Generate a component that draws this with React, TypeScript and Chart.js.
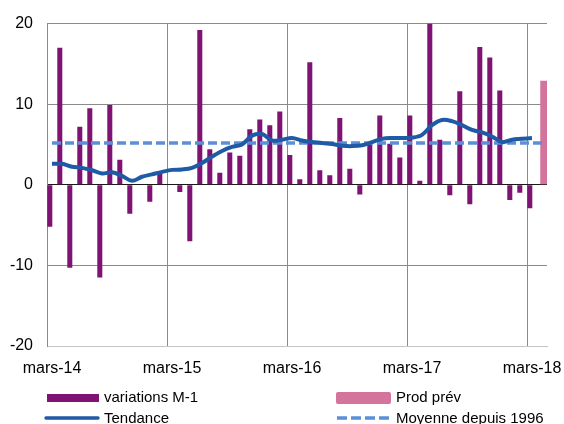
import { useEffect, useRef } from 'react';
import { Chart, registerables } from 'chart.js';

Chart.register(...registerables);

// ---- data ----
const monthNames = ['mars', 'avr', 'mai', 'juin', 'juil', 'août', 'sept', 'oct', 'nov', 'déc', 'janv', 'févr'];
const yearSuffixes = ['14', '15', '16', '17', '18'];
const categories: string[] = Array.from({ length: 50 }, (_, i) => `${monthNames[i % 12]}-${yearSuffixes[Math.floor((i + 2) / 12)]}`);
const tickLabels = ['mars-14', 'mars-15', 'mars-16', 'mars-17', 'mars-18'];

const variations: (number | null)[] = [
  -5.2, 17.0, -10.3, 7.2, 9.5, -11.5, 9.9, 3.1, -3.6, 0.0, -2.1, 1.5,
  0.0, -0.9, -7.0, 19.2, 4.4, 1.5, 4.0, 3.6, 6.9, 8.1, 7.4, 9.1,
  3.7, 0.7, 15.2, 1.8, 1.2, 8.3, 2.0, -1.2, 5.0, 8.6, 5.1, 3.4,
  8.6, 0.5, 20.0, 5.6, -1.3, 11.6, -2.4, 17.1, 15.8, 11.7, -1.9, -1.0,
  -2.9, null,
];
const prodPrev: (number | null)[] = [
  ...Array(49).fill(null), 12.9,
];
const tendance: (number | null)[] = [
  2.6, 2.6, 2.25, 2.1, 1.8, 1.4, 1.55, 1.1, 0.5, 1.0, 1.3, 1.6,
  1.85, 1.9, 2.1, 2.7, 3.5, 4.2, 4.7, 5.0, 6.1, 6.3, 5.5, 5.6,
  5.8, 5.5, 5.3, 5.2, 5.05, 4.85, 4.8, 4.9, 5.3, 5.7, 5.8, 5.8,
  5.85, 6.2, 7.4, 8.05, 7.9, 7.4, 6.8, 6.5, 6.0, 5.3, 5.6, 5.7,
  5.8, null,
];
const moyenneValue = 5.2;
const moyenne: number[] = categories.map(() => moyenneValue);

const PURPLE = '#7f1373';
const PINK = '#d4739b';
const BLUE = '#1f5aa6';
const LIGHTBLUE = '#5b8fd8';
const FONT = "'Liberation Sans', Arial, sans-serif";

const legendPlugin = {
  id: 'customLegend',
  afterDraw(chart: any) {
    const ctx = chart.ctx as CanvasRenderingContext2D;
    ctx.save();
    ctx.font = `15px ${FONT}`;
    ctx.fillStyle = '#000';
    ctx.textBaseline = 'middle';
    ctx.textAlign = 'left';
    const ds = chart.data.datasets;
    // row 1
    ctx.fillStyle = PURPLE;
    ctx.fillRect(47, 394, 52, 8);
    ctx.fillStyle = '#000';
    ctx.fillText(ds[0].label, 104, 398);
    ctx.fillStyle = PINK;
    ctx.beginPath();
    (ctx as any).roundRect(336, 392, 55, 12, 2);
    ctx.fill();
    ctx.fillStyle = '#000';
    ctx.fillText(ds[1].label, 396, 398);
    // row 2
    ctx.strokeStyle = BLUE;
    ctx.lineWidth = 3.5;
    ctx.lineCap = 'round';
    ctx.beginPath();
    ctx.moveTo(46, 418);
    ctx.lineTo(98, 418);
    ctx.stroke();
    ctx.fillText(ds[2].label, 104, 419);
    ctx.strokeStyle = LIGHTBLUE;
    ctx.lineCap = 'butt';
    ctx.setLineDash([10, 4]);
    ctx.beginPath();
    ctx.moveTo(337, 418);
    ctx.lineTo(389, 418);
    ctx.stroke();
    ctx.setLineDash([]);
    ctx.fillText(ds[3].label, 396, 419);
    ctx.restore();
  },
};

export default function App() {
  const ref = useRef<HTMLCanvasElement | null>(null);
  useEffect(() => {
    document.body.style.margin = '0';
    if (!ref.current) return;
    const chart = new Chart(ref.current, {
      type: 'bar',
      data: {
        labels: categories,
        datasets: [
          {
            type: 'bar',
            label: 'variations M-1',
            data: variations,
            backgroundColor: PURPLE,
            categoryPercentage: 0.88,
            barPercentage: 1.14,
            order: 2,
            clip: 0,
          } as any,
          {
            type: 'bar',
            label: 'Prod prév',
            data: prodPrev,
            backgroundColor: PINK,
            categoryPercentage: 1.0,
            barPercentage: 1.7,
            order: 3,
            clip: 0,
          } as any,
          {
            type: 'line',
            label: 'Tendance',
            data: tendance,
            borderColor: BLUE,
            borderWidth: 4,
            pointRadius: 0,
            tension: 0.35,
            order: 0,
          } as any,
          {
            type: 'line',
            label: 'Moyenne depuis 1996',
            data: moyenne,
            borderColor: LIGHTBLUE,
            borderWidth: 3.5,
            borderDash: [9, 4],
            pointRadius: 0,
            order: 1,
          } as any,
        ],
      },
      options: {
        animation: false,
        responsive: false,
        devicePixelRatio: 1,
        layout: { padding: { top: 21, right: 17, left: 0, bottom: 0 } },
        plugins: {
          legend: { display: false },
          tooltip: { enabled: false },
        },
        scales: {
          x: {
            type: 'category',
            offset: true,
            grid: {
              offset: true,
              drawTicks: false,
              lineWidth: 1,
              color: (c: any) => (c.type === 'tick' && c.index % 12 === 0 ? '#8a8a8a' : 'rgba(0,0,0,0)'),
            },
            border: { display: true, color: '#c4c4c4', width: 1 },
            ticks: {
              autoSkip: false,
              maxRotation: 0,
              minRotation: 0,
              padding: 13,
              color: '#000',
              font: { family: FONT, size: 16 },
              callback: (_v: any, i: number) => (tickLabels.includes(categories[i]) ? categories[i] : ''),
            },
            afterFit: (s: any) => {
              s.height = 78;
            },
          },
          y: {
            min: -20,
            max: 20,
            ticks: {
              stepSize: 10,
              padding: 14,
              color: '#000',
              font: { family: FONT, size: 16 },
            },
            grid: {
              drawTicks: false,
              lineWidth: 1,
              color: (c: any) => {
                const v = c.tick ? c.tick.value : null;
                if (v === 0) return '#1a1a1a';
                if (v === -20) return '#c4c4c4';
                return '#8a8a8a';
              },
            },
            border: { display: true, color: '#8a8a8a', width: 1 },
            afterFit: (s: any) => {
              s.width = 47;
            },
          },
        },
      },
      plugins: [legendPlugin],
    });
    return () => chart.destroy();
  }, []);
  return (
    <div style={{ width: 564, height: 424 }}>
      <canvas ref={ref} width={564} height={424} style={{ display: 'block', width: 564, height: 424 }} />
    </div>
  );
}
